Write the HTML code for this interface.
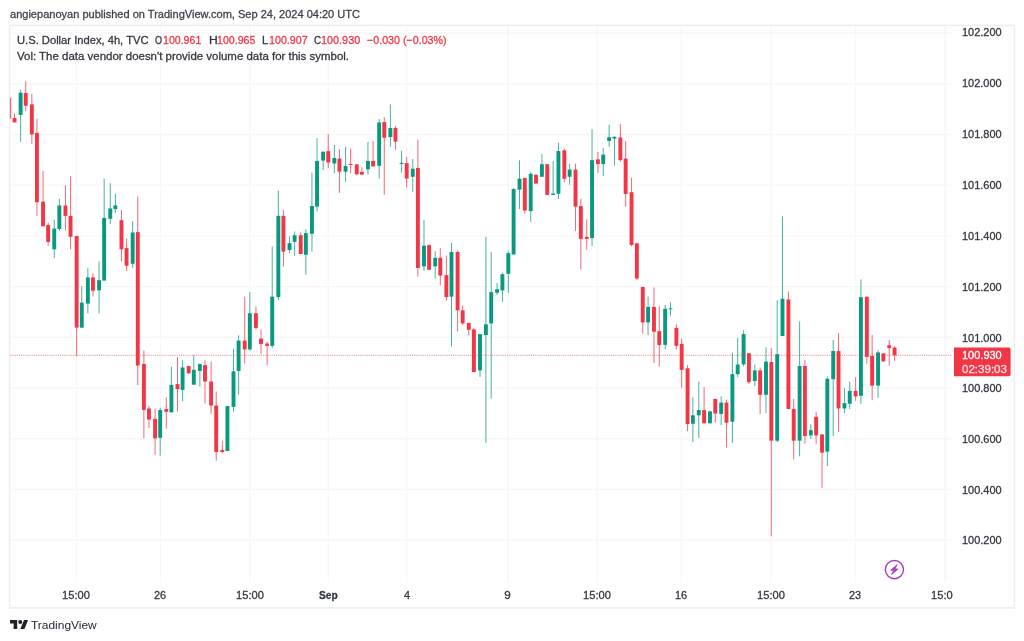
<!DOCTYPE html>
<html lang="en">
<head>
<meta charset="utf-8">
<title>U.S. Dollar Index, 4h, TVC - TradingView</title>
<style>
html,body{margin:0;padding:0;background:#fff;}
body{width:1024px;height:641px;position:relative;overflow:hidden;font-family:"Liberation Sans",Arial,sans-serif;color:#33373f;}
.chart{position:absolute;left:0;top:0;}
.tx{position:absolute;line-height:1;white-space:pre;transform-origin:0 0;-webkit-text-stroke:0.3px currentColor;}
.hdr{color:#3f424b;}
.lg.v{color:#F23645;}
.tl.b{font-weight:bold;}
.taxis{position:absolute;left:0;top:0;width:953px;height:641px;overflow:hidden;}
.lp{color:#fff;}
.lp.t{opacity:0.85;}
.ft{color:#1e222d;-webkit-text-stroke:0;}
.logo{position:absolute;left:9.75px;top:619.7px;}
</style>
</head>
<body>
<header><span class="tx hdr" style="left:9.53px;top:8px;font-size:11.7px;transform:scaleX(0.9439);">angiepanoyan published on TradingView.com, Sep 24, 2024 04:20 UTC</span></header>
<svg class="chart" width="1024" height="641" viewBox="0 0 1024 641">
<g stroke="#f7f7f8" stroke-width="1.4"><line x1="76.5" y1="26" x2="76.5" y2="582"/><line x1="160.4" y1="26" x2="160.4" y2="582"/><line x1="249.7" y1="26" x2="249.7" y2="582"/><line x1="328.3" y1="26" x2="328.3" y2="582"/><line x1="406.6" y1="26" x2="406.6" y2="582"/><line x1="508.1" y1="26" x2="508.1" y2="582"/><line x1="597.4" y1="26" x2="597.4" y2="582"/><line x1="681.4" y1="26" x2="681.4" y2="582"/><line x1="771.3" y1="26" x2="771.3" y2="582"/><line x1="855.5" y1="26" x2="855.5" y2="582"/><line x1="10" y1="33" x2="953" y2="33"/><line x1="10" y1="83.72" x2="953" y2="83.72"/><line x1="10" y1="134.44" x2="953" y2="134.44"/><line x1="10" y1="185.16" x2="953" y2="185.16"/><line x1="10" y1="235.88" x2="953" y2="235.88"/><line x1="10" y1="286.6" x2="953" y2="286.6"/><line x1="10" y1="337.32" x2="953" y2="337.32"/><line x1="10" y1="388.04" x2="953" y2="388.04"/><line x1="10" y1="438.76" x2="953" y2="438.76"/><line x1="10" y1="489.48" x2="953" y2="489.48"/><line x1="10" y1="540.2" x2="953" y2="540.2"/></g>
<rect x="9.6" y="25.4" width="1004.8" height="582.5" fill="none" stroke="#ecedf1" stroke-width="1.5"/>
<line x1="945.3" y1="26" x2="945.3" y2="582" stroke="#f3f4f7" stroke-width="1.4"/>
<g fill="#089981" opacity="0.75"><rect x="20.13" y="89.53" width="1" height="52.35"/><rect x="53.75" y="219.8" width="1" height="38.48"/><rect x="58.85" y="198.91" width="1" height="31.64"/><rect x="81.26" y="286.02" width="1" height="41.6"/><rect x="87.36" y="268.24" width="1" height="45.12"/><rect x="98.56" y="261.41" width="1" height="51.95"/><rect x="103.66" y="178.59" width="1" height="101.96"/><rect x="109.77" y="183.09" width="1" height="40.82"/><rect x="114.87" y="193.44" width="1" height="19.92"/><rect x="132.17" y="221.17" width="1" height="46.88"/><rect x="159.68" y="407.5" width="1" height="48.24"/><rect x="170.89" y="366.88" width="1" height="45.5"/><rect x="182.09" y="360.23" width="1" height="40.82"/><rect x="193.3" y="355.16" width="1" height="29.49"/><rect x="199.4" y="363.16" width="1" height="23.44"/><rect x="226.91" y="406.13" width="1" height="44.92"/><rect x="233.01" y="348.91" width="1" height="62.5"/><rect x="238.11" y="335.31" width="1" height="59.49"/><rect x="249.32" y="292.15" width="1" height="58.59"/><rect x="271.72" y="246.45" width="1" height="101.36"/><rect x="277.83" y="190.62" width="1" height="109.54"/><rect x="289.03" y="236.25" width="1" height="16.87"/><rect x="294.13" y="231.5" width="1" height="24.38"/><rect x="305.34" y="229.38" width="1" height="45.39"/><rect x="311.44" y="172.66" width="1" height="78.96"/><rect x="316.54" y="138.09" width="1" height="73.16"/><rect x="322.64" y="151.17" width="1" height="18.75"/><rect x="333.85" y="144.92" width="1" height="28.32"/><rect x="345.05" y="146.88" width="1" height="35.15"/><rect x="367.46" y="141.99" width="1" height="32.62"/><rect x="378.66" y="118.95" width="1" height="59.57"/><rect x="389.87" y="104.3" width="1" height="42.58"/><rect x="401.07" y="150.78" width="1" height="21.88"/><rect x="412.27" y="158.98" width="1" height="32.82"/><rect x="423.48" y="219.92" width="1" height="50.94"/><rect x="434.68" y="251.17" width="1" height="27.31"/><rect x="450.99" y="242.77" width="1" height="103.68"/><rect x="479.5" y="333.75" width="1" height="43.13"/><rect x="485.4" y="236.91" width="1" height="205.98"/><rect x="490.7" y="252.15" width="1" height="146.6"/><rect x="496.6" y="282.97" width="1" height="12.11"/><rect x="501.91" y="272.81" width="1" height="29.1"/><rect x="507.81" y="251.17" width="1" height="41.56"/><rect x="513.11" y="188.09" width="1" height="66.4"/><rect x="519.01" y="160.35" width="1" height="48.63"/><rect x="530.22" y="171.88" width="1" height="50"/><rect x="541.42" y="153.91" width="1" height="22.85"/><rect x="552.62" y="161.13" width="1" height="33.79"/><rect x="557.93" y="142.66" width="1" height="56.56"/><rect x="569.13" y="163.67" width="1" height="21.1"/><rect x="591.54" y="129.22" width="1" height="116.68"/><rect x="602.74" y="148.12" width="1" height="27.97"/><rect x="608.64" y="124.69" width="1" height="22.19"/><rect x="613.95" y="136.72" width="1" height="28.9"/><rect x="647.56" y="296.6" width="1" height="38.67"/><rect x="664.66" y="304.8" width="1" height="44.54"/><rect x="669.97" y="302.07" width="1" height="13.67"/><rect x="692.37" y="397.34" width="1" height="44.93"/><rect x="698.28" y="381.72" width="1" height="56.25"/><rect x="709.48" y="410.62" width="1" height="12.7"/><rect x="720.68" y="396.37" width="1" height="28.71"/><rect x="731.89" y="352.66" width="1" height="90.19"/><rect x="737.19" y="337.62" width="1" height="39.45"/><rect x="743.09" y="330.2" width="1" height="36.32"/><rect x="754.3" y="364.57" width="1" height="21.48"/><rect x="765.5" y="347.38" width="1" height="65.59"/><rect x="776.7" y="300.12" width="1" height="142.15"/><rect x="782.01" y="216.41" width="1" height="119.61"/><rect x="799.11" y="321.41" width="1" height="134.92"/><rect x="810.32" y="424.1" width="1" height="14.85"/><rect x="826.82" y="376.45" width="1" height="89.64"/><rect x="832.72" y="339.92" width="1" height="96.1"/><rect x="843.93" y="387.97" width="1" height="25"/><rect x="849.23" y="381.72" width="1" height="27.34"/><rect x="860.43" y="279.38" width="1" height="124.41"/><rect x="877.54" y="350.08" width="1" height="47.85"/></g>
<g fill="#F23645" opacity="0.75"><rect x="9.9" y="97.9" width="1.3" height="20.9"/><rect x="14.03" y="113.36" width="1" height="8.98"/><rect x="25.24" y="81.33" width="1" height="29.69"/><rect x="31.34" y="93.44" width="1" height="50.39"/><rect x="36.44" y="118.83" width="1" height="97.07"/><rect x="42.54" y="170.98" width="1" height="55.27"/><rect x="47.64" y="222.73" width="1" height="23.05"/><rect x="64.95" y="185.23" width="1" height="45.32"/><rect x="70.05" y="176.25" width="1" height="73.05"/><rect x="76.15" y="236.02" width="1" height="119.92"/><rect x="92.46" y="273.52" width="1" height="22.85"/><rect x="120.97" y="210.04" width="1" height="51.37"/><rect x="126.07" y="238.36" width="1" height="32.62"/><rect x="137.28" y="196.37" width="1" height="188.67"/><rect x="143.38" y="350.47" width="1" height="87.89"/><rect x="148.48" y="405.94" width="1" height="22.07"/><rect x="154.58" y="408.48" width="1" height="46.29"/><rect x="165.79" y="397.34" width="1" height="31.25"/><rect x="176.99" y="357.11" width="1" height="54.3"/><rect x="188.19" y="366.09" width="1" height="7.23"/><rect x="204.5" y="360.23" width="1" height="43.36"/><rect x="210.6" y="361.6" width="1" height="52.15"/><rect x="215.7" y="391.48" width="1" height="69.14"/><rect x="221.81" y="440.7" width="1" height="12.7"/><rect x="244.21" y="296.64" width="1" height="66.91"/><rect x="255.42" y="306.41" width="1" height="22.85"/><rect x="260.52" y="329.45" width="1" height="24.34"/><rect x="266.62" y="341.56" width="1" height="23.95"/><rect x="282.93" y="210" width="1" height="56.5"/><rect x="300.23" y="232.5" width="1" height="21.5"/><rect x="327.74" y="134.18" width="1" height="33.79"/><rect x="338.95" y="149.22" width="1" height="43.55"/><rect x="350.15" y="148.44" width="1" height="24.8"/><rect x="356.25" y="164.06" width="1" height="11.53"/><rect x="361.36" y="167.38" width="1" height="7.23"/><rect x="372.56" y="141.02" width="1" height="25.39"/><rect x="383.76" y="117.19" width="1" height="77.54"/><rect x="394.97" y="125.98" width="1" height="23.82"/><rect x="406.17" y="157.03" width="1" height="30.47"/><rect x="417.38" y="139.65" width="1" height="137.07"/><rect x="428.58" y="244.34" width="1" height="25.93"/><rect x="439.78" y="248.05" width="1" height="37.26"/><rect x="445.89" y="255.47" width="1" height="45.47"/><rect x="457.09" y="250.59" width="1" height="80.82"/><rect x="462.19" y="305.43" width="1" height="19.53"/><rect x="468.29" y="322.62" width="1" height="12.69"/><rect x="473.4" y="328.28" width="1" height="43.71"/><rect x="524.31" y="177.93" width="1" height="35.94"/><rect x="535.52" y="174.41" width="1" height="9.18"/><rect x="546.72" y="164.26" width="1" height="30.66"/><rect x="563.83" y="148.75" width="1" height="33.48"/><rect x="575.03" y="163.67" width="1" height="67.38"/><rect x="580.33" y="198.83" width="1" height="70.7"/><rect x="586.24" y="219.34" width="1" height="30.27"/><rect x="597.44" y="151.88" width="1" height="21.09"/><rect x="619.85" y="123.91" width="1" height="37.81"/><rect x="625.15" y="141.09" width="1" height="65.75"/><rect x="631.05" y="177.81" width="1" height="68.67"/><rect x="636.35" y="242.97" width="1" height="37.11"/><rect x="642.26" y="286.91" width="1" height="46.8"/><rect x="653.46" y="287.42" width="1" height="75.59"/><rect x="658.76" y="305.98" width="1" height="60.54"/><rect x="675.87" y="324.34" width="1" height="25"/><rect x="681.17" y="338.59" width="1" height="49.22"/><rect x="687.07" y="364.96" width="1" height="66.17"/><rect x="703.58" y="386.99" width="1" height="37.31"/><rect x="714.78" y="398.91" width="1" height="23.82"/><rect x="725.99" y="399.69" width="1" height="47.85"/><rect x="748.39" y="353.24" width="1" height="30.67"/><rect x="759.6" y="367.5" width="1" height="46.45"/><rect x="770.8" y="347.97" width="1" height="188.32"/><rect x="787.91" y="291.33" width="1" height="117.73"/><rect x="793.21" y="398.91" width="1" height="60.54"/><rect x="804.41" y="360.08" width="1" height="83.75"/><rect x="815.62" y="411.99" width="1" height="31.84"/><rect x="821.52" y="434.06" width="1" height="53.71"/><rect x="838.03" y="333.09" width="1" height="98.82"/><rect x="855.13" y="377.23" width="1" height="23.63"/><rect x="866.34" y="296.37" width="1" height="67.38"/><rect x="871.64" y="334.84" width="1" height="65.43"/><rect x="882.84" y="353.01" width="1" height="8.4"/><rect x="888.74" y="339.92" width="1" height="25.78"/><rect x="894.05" y="346.17" width="1" height="14.65"/></g>
<g fill="#089981"><rect x="18.68" y="92.66" width="3.9" height="22.26"/><rect x="52.3" y="228.59" width="3.9" height="20.71"/><rect x="57.4" y="205.55" width="3.9" height="23.43"/><rect x="79.81" y="302.62" width="3.9" height="25"/><rect x="85.91" y="277.42" width="3.9" height="26.17"/><rect x="97.11" y="280.16" width="3.9" height="10.15"/><rect x="102.21" y="217.85" width="3.9" height="62.7"/><rect x="108.32" y="208.48" width="3.9" height="10.35"/><rect x="113.42" y="205.35" width="3.9" height="3.71"/><rect x="130.72" y="232.5" width="3.9" height="31.25"/><rect x="158.23" y="410.04" width="3.9" height="27.73"/><rect x="169.44" y="384.84" width="3.9" height="27.54"/><rect x="180.64" y="367.46" width="3.9" height="22.46"/><rect x="191.85" y="369.8" width="3.9" height="14.85"/><rect x="197.95" y="364.14" width="3.9" height="6.84"/><rect x="225.46" y="406.13" width="3.9" height="44.92"/><rect x="231.56" y="371.37" width="3.9" height="35.54"/><rect x="236.66" y="340.59" width="3.9" height="30.39"/><rect x="247.87" y="313.24" width="3.9" height="36.14"/><rect x="270.27" y="296.64" width="3.9" height="49.22"/><rect x="276.38" y="215.88" width="3.9" height="81.15"/><rect x="287.58" y="243.12" width="3.9" height="6.88"/><rect x="292.68" y="235.25" width="3.9" height="6.63"/><rect x="303.89" y="233.12" width="3.9" height="21.63"/><rect x="309.99" y="206" width="3.9" height="27.75"/><rect x="315.09" y="160.94" width="3.9" height="45.68"/><rect x="321.19" y="151.76" width="3.9" height="8.79"/><rect x="332.4" y="158.01" width="3.9" height="5.47"/><rect x="343.6" y="166.02" width="3.9" height="5.66"/><rect x="366.01" y="160.94" width="3.9" height="8.4"/><rect x="377.21" y="122.46" width="3.9" height="43.36"/><rect x="388.42" y="127.93" width="3.9" height="9.18"/><rect x="399.62" y="162.88" width="3.9" height="1"/><rect x="410.82" y="168.75" width="3.9" height="8.01"/><rect x="422.03" y="245.7" width="3.9" height="20.67"/><rect x="433.23" y="257.81" width="3.9" height="8.56"/><rect x="449.54" y="251.95" width="3.9" height="44.69"/><rect x="478.05" y="334.14" width="3.9" height="36.29"/><rect x="483.95" y="324.38" width="3.9" height="10.74"/><rect x="489.25" y="292.15" width="3.9" height="31.25"/><rect x="495.15" y="289.22" width="3.9" height="3.51"/><rect x="500.46" y="274.18" width="3.9" height="16.21"/><rect x="506.36" y="253.12" width="3.9" height="20.67"/><rect x="511.66" y="189.06" width="3.9" height="65.43"/><rect x="517.56" y="178.71" width="3.9" height="10.94"/><rect x="528.77" y="173.83" width="3.9" height="37.3"/><rect x="539.97" y="164.26" width="3.9" height="12.5"/><rect x="551.17" y="193.55" width="3.9" height="1.37"/><rect x="556.48" y="151.09" width="3.9" height="42.66"/><rect x="567.68" y="169.53" width="3.9" height="7.23"/><rect x="590.09" y="160.16" width="3.9" height="77.93"/><rect x="601.29" y="154.69" width="3.9" height="9.37"/><rect x="607.19" y="137.19" width="3.9" height="3.75"/><rect x="612.5" y="136.72" width="3.9" height="1.87"/><rect x="646.11" y="306.95" width="3.9" height="15.43"/><rect x="663.21" y="308.71" width="3.9" height="36.13"/><rect x="668.52" y="308.31" width="3.9" height="1"/><rect x="690.92" y="415.31" width="3.9" height="8.4"/><rect x="696.83" y="410.04" width="3.9" height="5.27"/><rect x="708.03" y="411.41" width="3.9" height="11.91"/><rect x="719.23" y="402.62" width="3.9" height="11.33"/><rect x="730.44" y="374.14" width="3.9" height="47.62"/><rect x="735.74" y="364.57" width="3.9" height="9.57"/><rect x="741.64" y="334.1" width="3.9" height="30.28"/><rect x="752.85" y="370.43" width="3.9" height="10.55"/><rect x="764.05" y="361.64" width="3.9" height="33.16"/><rect x="775.25" y="354.22" width="3.9" height="86.48"/><rect x="780.56" y="298.75" width="3.9" height="37.27"/><rect x="797.66" y="365.94" width="3.9" height="74.76"/><rect x="808.87" y="430.16" width="3.9" height="5.27"/><rect x="825.37" y="378.79" width="3.9" height="72.85"/><rect x="831.27" y="351.05" width="3.9" height="28.13"/><rect x="842.48" y="403.2" width="3.9" height="5.28"/><rect x="847.78" y="390.9" width="3.9" height="12.89"/><rect x="858.98" y="297.19" width="3.9" height="98.59"/><rect x="876.09" y="352.42" width="3.9" height="33.2"/></g>
<g fill="#F23645"><rect x="12.58" y="118.05" width="3.9" height="4.29"/><rect x="23.79" y="93.05" width="3.9" height="12.69"/><rect x="29.89" y="104.38" width="3.9" height="30.07"/><rect x="34.99" y="132.89" width="3.9" height="69.34"/><rect x="41.09" y="201.64" width="3.9" height="24.61"/><rect x="46.19" y="225.08" width="3.9" height="16.8"/><rect x="63.5" y="205.55" width="3.9" height="10.35"/><rect x="68.6" y="215.9" width="3.9" height="20.9"/><rect x="74.7" y="236.02" width="3.9" height="91.6"/><rect x="91.01" y="277.42" width="3.9" height="13.28"/><rect x="119.52" y="220.2" width="3.9" height="29.1"/><rect x="124.62" y="248.12" width="3.9" height="17.58"/><rect x="135.83" y="232.11" width="3.9" height="133.4"/><rect x="141.93" y="363.95" width="3.9" height="45.89"/><rect x="147.03" y="408.48" width="3.9" height="11.13"/><rect x="153.13" y="418.83" width="3.9" height="19.53"/><rect x="164.34" y="409.06" width="3.9" height="2.74"/><rect x="175.54" y="384.06" width="3.9" height="5.08"/><rect x="186.74" y="366.09" width="3.9" height="7.23"/><rect x="203.05" y="365.12" width="3.9" height="16.4"/><rect x="209.15" y="381.52" width="3.9" height="24.03"/><rect x="214.25" y="405.55" width="3.9" height="46.48"/><rect x="220.36" y="450.08" width="3.9" height="1.95"/><rect x="242.76" y="340.59" width="3.9" height="8.79"/><rect x="253.97" y="313.24" width="3.9" height="14.65"/><rect x="259.07" y="338.63" width="3.9" height="5.47"/><rect x="265.17" y="343.52" width="3.9" height="2.34"/><rect x="281.48" y="215.88" width="3.9" height="35.74"/><rect x="298.78" y="235.25" width="3.9" height="18.75"/><rect x="326.29" y="151.17" width="3.9" height="11.33"/><rect x="337.5" y="158.59" width="3.9" height="13.09"/><rect x="348.7" y="163.95" width="3.9" height="1"/><rect x="354.8" y="164.45" width="3.9" height="9.77"/><rect x="359.91" y="171.88" width="3.9" height="2.73"/><rect x="371.11" y="160.94" width="3.9" height="5.47"/><rect x="382.31" y="122.07" width="3.9" height="15.63"/><rect x="393.52" y="127.93" width="3.9" height="13.67"/><rect x="404.72" y="163.09" width="3.9" height="15.43"/><rect x="415.93" y="167.97" width="3.9" height="99.96"/><rect x="427.13" y="245.12" width="3.9" height="24.57"/><rect x="438.33" y="257.81" width="3.9" height="17.74"/><rect x="444.44" y="275.16" width="3.9" height="21.87"/><rect x="455.64" y="251.95" width="3.9" height="58.36"/><rect x="460.74" y="310.31" width="3.9" height="13.09"/><rect x="466.84" y="323.01" width="3.9" height="6.83"/><rect x="471.95" y="329.45" width="3.9" height="42.54"/><rect x="522.86" y="177.93" width="3.9" height="32.62"/><rect x="534.07" y="174.8" width="3.9" height="8.79"/><rect x="545.27" y="164.26" width="3.9" height="30.66"/><rect x="562.38" y="150.31" width="3.9" height="28.4"/><rect x="573.58" y="169.53" width="3.9" height="37.11"/><rect x="578.88" y="206.05" width="3.9" height="32.82"/><rect x="584.79" y="236.91" width="3.9" height="1.96"/><rect x="595.99" y="159.38" width="3.9" height="4.68"/><rect x="618.4" y="137.5" width="3.9" height="22.66"/><rect x="623.7" y="158.59" width="3.9" height="35.39"/><rect x="629.6" y="192.19" width="3.9" height="52.73"/><rect x="634.9" y="243.36" width="3.9" height="35.16"/><rect x="640.81" y="286.91" width="3.9" height="35.47"/><rect x="652.01" y="306.95" width="3.9" height="24.81"/><rect x="657.31" y="331.17" width="3.9" height="13.87"/><rect x="674.42" y="327.85" width="3.9" height="17.97"/><rect x="679.72" y="343.87" width="3.9" height="25.97"/><rect x="685.62" y="368.28" width="3.9" height="55.82"/><rect x="702.13" y="410.04" width="3.9" height="13.08"/><rect x="713.33" y="398.91" width="3.9" height="14.64"/><rect x="724.54" y="402.62" width="3.9" height="20.11"/><rect x="746.94" y="353.24" width="3.9" height="28.91"/><rect x="758.15" y="370.43" width="3.9" height="24.37"/><rect x="769.35" y="362.03" width="3.9" height="78.67"/><rect x="786.46" y="299.53" width="3.9" height="109.53"/><rect x="791.76" y="409.06" width="3.9" height="31.64"/><rect x="802.96" y="365.94" width="3.9" height="70.08"/><rect x="814.17" y="416.88" width="3.9" height="18.55"/><rect x="820.07" y="434.45" width="3.9" height="18.17"/><rect x="836.58" y="351.05" width="3.9" height="57.43"/><rect x="853.68" y="390.9" width="3.9" height="5.47"/><rect x="864.89" y="296.76" width="3.9" height="60.15"/><rect x="870.19" y="355.94" width="3.9" height="29.68"/><rect x="881.39" y="353.4" width="3.9" height="8.01"/><rect x="887.29" y="345.2" width="3.9" height="2.92"/><rect x="892.6" y="347.54" width="3.9" height="7.81"/></g>
<line x1="10.3" y1="355.2" x2="952.2" y2="355.2" stroke="#F23645" stroke-width="1.05" stroke-dasharray="1.08 1.08" opacity="0.62"/>
<path d="M954 347.45 H1008.6 a2 2 0 0 1 2 2 V374.35 a2 2 0 0 1 -2 2 H954 Z" fill="#F23645"/>
<g transform="translate(894.4 569.6)"><circle r="9.1" fill="none" stroke="#a63fc0" stroke-width="1.4"/><path d="M2.8 -4.95 L-3.8 0.6 H-0.5 L-2.95 5 L3.8 -0.6 H0.5 Z" fill="#a63fc0" stroke="#a63fc0" stroke-width="0.8" stroke-linejoin="round"/></g>
</svg>
<div class="legend">
<span class="tx lg ttl" style="left:16.78px;top:34px;font-size:11.7px;transform:scaleX(0.9563);">U.S. Dollar Index, 4h, TVC</span>
<span class="tx lg k" style="left:155.11px;top:34px;font-size:11.7px;transform:scaleX(0.775);">O</span>
<span class="tx lg v" style="left:163.42px;top:34px;font-size:11.7px;transform:scaleX(0.9061);">100.961</span>
<span class="tx lg k" style="left:208.62px;top:34px;font-size:11.7px;transform:scaleX(1.037);">H</span>
<span class="tx lg v" style="left:217.02px;top:34px;font-size:11.7px;transform:scaleX(0.9098);">100.965</span>
<span class="tx lg k" style="left:262.09px;top:34px;font-size:11.7px;transform:scaleX(0.9455);">L</span>
<span class="tx lg v" style="left:268.51px;top:34px;font-size:11.7px;transform:scaleX(0.9146);">100.907</span>
<span class="tx lg k" style="left:313.58px;top:34px;font-size:11.7px;transform:scaleX(0.84);">C</span>
<span class="tx lg v" style="left:321.2px;top:34px;font-size:11.7px;transform:scaleX(0.9285);">100.930</span>
<span class="tx lg v" style="left:367.04px;top:34px;font-size:11.7px;transform:scaleX(0.914);">−0.030 (−0.03%)</span>
<span class="tx lg vol" style="left:17.1px;top:50px;font-size:11.7px;transform:scaleX(0.9807);">Vol: The data vendor doesn't provide volume data for this symbol.</span>
</div>
<div class="paxis">
<span class="tx pl" style="left:961.8px;top:26px;font-size:11.7px;transform:scaleX(0.9382);">102.200</span>
<span class="tx pl" style="left:961.8px;top:77px;font-size:11.7px;transform:scaleX(0.9382);">102.000</span>
<span class="tx pl" style="left:961.8px;top:128px;font-size:11.7px;transform:scaleX(0.9382);">101.800</span>
<span class="tx pl" style="left:961.8px;top:179px;font-size:11.7px;transform:scaleX(0.9382);">101.600</span>
<span class="tx pl" style="left:961.8px;top:230px;font-size:11.7px;transform:scaleX(0.9382);">101.400</span>
<span class="tx pl" style="left:961.8px;top:281px;font-size:11.7px;transform:scaleX(0.9382);">101.200</span>
<span class="tx pl" style="left:961.8px;top:332px;font-size:11.7px;transform:scaleX(0.9382);">101.000</span>
<span class="tx pl" style="left:961.8px;top:382px;font-size:11.7px;transform:scaleX(0.9382);">100.800</span>
<span class="tx pl" style="left:961.8px;top:433px;font-size:11.7px;transform:scaleX(0.9382);">100.600</span>
<span class="tx pl" style="left:961.8px;top:484px;font-size:11.7px;transform:scaleX(0.9382);">100.400</span>
<span class="tx pl" style="left:961.8px;top:534px;font-size:11.7px;transform:scaleX(0.9382);">100.200</span>
</div>
<span class="tx lp p" style="left:961.99px;top:349px;font-size:11.7px;transform:scaleX(0.9406);">100.930</span>
<span class="tx lp t" style="left:961.65px;top:363px;font-size:11.7px;transform:scaleX(0.9877);">02:39:03</span>
<div class="taxis">
<span class="tx tl" style="left:62.24px;top:589px;font-size:11.7px;transform:scaleX(0.9522);">15:00</span>
<span class="tx tl" style="left:153.93px;top:589px;font-size:11.7px;transform:scaleX(0.9333);">26</span>
<span class="tx tl" style="left:236.04px;top:589px;font-size:11.7px;transform:scaleX(0.9522);">15:00</span>
<span class="tx tl b" style="left:318.88px;top:589px;font-size:11.7px;transform:scaleX(0.8771);">Sep</span>
<span class="tx tl" style="left:403.67px;top:589px;font-size:11.7px;transform:scaleX(0.9333);">4</span>
<span class="tx tl" style="left:504.2px;top:589px;font-size:11.7px;transform:scaleX(1.);">9</span>
<span class="tx tl" style="left:583.24px;top:589px;font-size:11.7px;transform:scaleX(0.9522);">15:00</span>
<span class="tx tl" style="left:675.2px;top:589px;font-size:11.7px;transform:scaleX(0.9362);">16</span>
<span class="tx tl" style="left:757.24px;top:589px;font-size:11.7px;transform:scaleX(0.9522);">15:00</span>
<span class="tx tl" style="left:848.93px;top:589px;font-size:11.7px;transform:scaleX(0.9333);">23</span>
<span class="tx tl" style="left:930.89px;top:589px;font-size:11.7px;transform:scaleX(0.9522);">15:00</span>
</div>
<footer>
<svg class="logo" width="18.2" height="9.2" viewBox="0 4 35.5 18"><path fill="#1e222d" d="M14 22H7V11H0V4h14v18zM28 22h-8l7.5-18h8L28 22z"/><circle fill="#1e222d" cx="20" cy="8" r="4"/></svg>
<span class="tx ft" style="left:31.24px;top:619px;font-size:11.7px;transform:scaleX(1.0219);">TradingView</span>
</footer>
</body>
</html>
